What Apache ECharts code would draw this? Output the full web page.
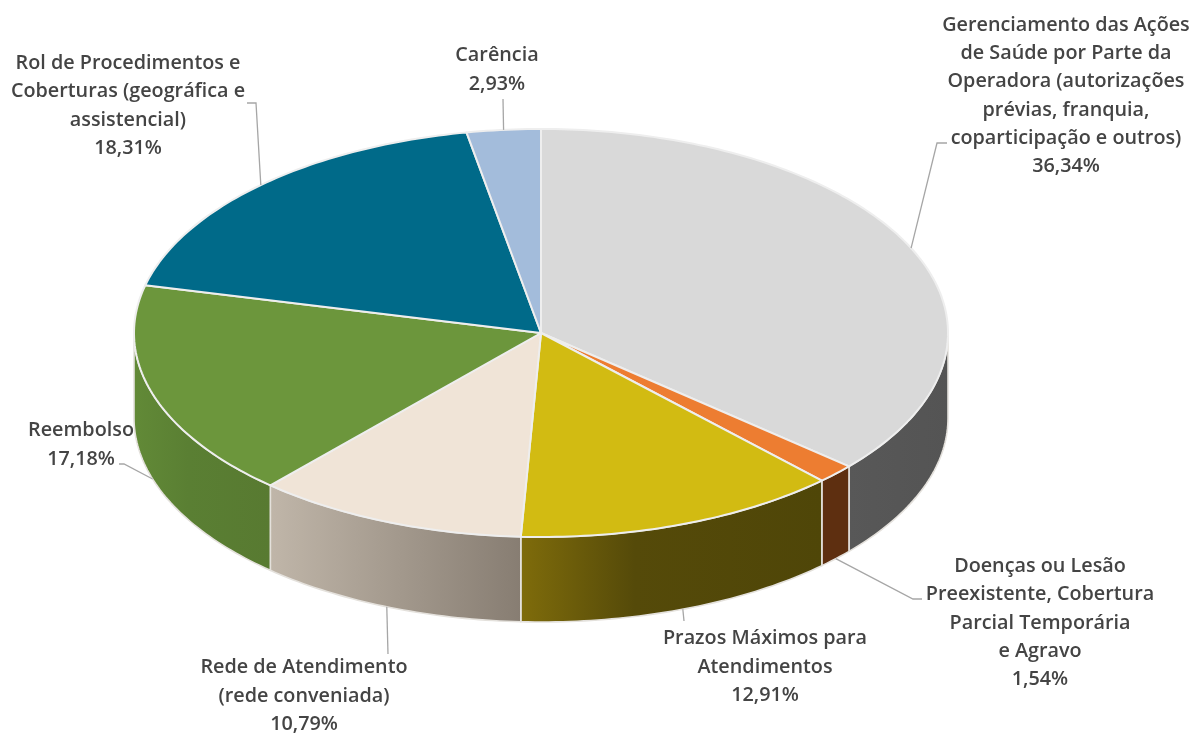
<!DOCTYPE html>
<html><head><meta charset="utf-8">
<style>html,body{margin:0;padding:0;background:#fff}#c{width:1194px;height:733px}</style>
<script src="https://cdn.jsdelivr.net/npm/echarts@6/dist/echarts.min.js"></script>
</head><body><div id="c"></div>
<script>
// Data
const categories = [
  "Gerenciamento das Ações\nde Saúde por Parte da\nOperadora (autorizações\nprévias, franquia,\ncoparticipação e outros)",
  "Doenças ou Lesão\nPreexistente, Cobertura\nParcial Temporária\ne Agravo",
  "Prazos Máximos para\nAtendimentos",
  "Rede de Atendimento\n(rede conveniada)",
  "Reembolso",
  "Rol de Procedimentos e\nCoberturas (geográfica e\nassistencial)",
  "Carência"
];
const values = [36.34, 1.54, 12.91, 10.79, 17.18, 18.31, 2.93];

// Styles
const topColors = ["#d9d9d9","#ed7d31","#d2bb12","#f0e4d7","#6c963c","#006a89","#a3bcdb"];
const wallStops = [
  [[0,"#585858"],[1,"#545454"]],
  [[0,"#5e2f10"],[1,"#5e2f10"]],
  [[0,"#7f6c0b"],[0.38,"#554a09"],[1,"#4f4608"]],
  [[0,"#c0b6a9"],[1,"#877d72"]],
  [[0,"#628a37"],[0.4,"#5a7f33"],[1,"#587a31"]],
  [[0,"#006a89"],[1,"#006a89"]],
  [[0,"#a3bcdb"],[1,"#a3bcdb"]]
];
// Pie geometry (pixels)
const CX = 541, CY = 333, RX = 407, RY = 204, DEPTH = 85;
// Label placement: centre x, centre y, then leader knee points
const labelBoxes = [
  {x:1066,y:96, knee:[[937,143],[947,143]]},
  {x:1040,y:623,knee:[[913,599],[922,599]]},
  {x:765, y:667,knee:[[684,621]]},
  {x:304, y:696,knee:[[388,654]]},
  {x:81,  y:445,knee:[[124,464],[119,464]]},
  {x:128, y:106,knee:[[256,103],[247,103]]},
  {x:497, y:70, knee:[[503,99]]}
];

const total = values.reduce((a,b)=>a+b,0);
function startAngle(i){ let s=0; for(let k=0;k<i;k++) s+=values[k]; return s/total*2*Math.PI; }
function endAngle(i){ return startAngle(i)+values[i]/total*2*Math.PI; }
function pt(a,dy){ return [CX+RX*Math.sin(a), CY-RY*Math.cos(a)+(dy||0)]; }
function arc(a0,a1,dy){
  const n=Math.max(2,Math.ceil((a1-a0)/(Math.PI/180))), out=[];
  for(let k=0;k<=n;k++) out.push(pt(a0+(a1-a0)*k/n,dy));
  return out;
}
function renderWall(params){
  const i=params.dataIndex;
  const a0=Math.max(startAngle(i),Math.PI/2), a1=Math.min(endAngle(i),Math.PI*1.5);
  if(a1<=a0) return {type:'group',children:[]};
  const pts=arc(a0,a1,0).concat(arc(a0,a1,DEPTH).reverse());
  return {type:'polygon',shape:{points:pts},style:{
    fill:new echarts.graphic.LinearGradient(0,0,1,0,wallStops[i].map(s=>({offset:s[0],color:s[1]}))),
    stroke:'#e4e1dc',lineWidth:1.6,lineJoin:'round'}};
}
function renderTop(params){
  const i=params.dataIndex;
  const pts=[[CX,CY]].concat(arc(startAngle(i),endAngle(i),0));
  return {type:'polygon',shape:{points:pts},style:{fill:topColors[i],stroke:'#eeeeee',lineWidth:2,lineJoin:'round'}};
}
function renderLabel(params,api){
  const i=params.dataIndex, box=labelBoxes[i];
  const mid=(startAngle(i)+endAngle(i))/2;
  const front=Math.cos(mid)<0;
  const start=pt(mid,front?DEPTH:0);
  const txt=categories[i]+"\n"+api.value(0).toFixed(2).replace('.',',')+"%";
  return {type:'group',children:[
    {type:'polyline',shape:{points:[start].concat(box.knee)},style:{fill:null,stroke:'#a6a6a6',lineWidth:1.3}},
    {type:'text',style:{text:txt,x:box.x,y:box.y,align:'center',verticalAlign:'middle',
      fill:'#444444',font:'600 19.8px "Open Sans"',lineHeight:28.3}}
  ]};
}
const chart=echarts.init(document.getElementById('c'),null,{renderer:'canvas'});
const seriesData=values.map(v=>[v]);
chart.setOption({
  animation:false,
  backgroundColor:'#ffffff',
  series:[
    {type:'custom',coordinateSystem:'none',renderItem:renderWall,data:seriesData,z:1,silent:true},
    {type:'custom',coordinateSystem:'none',renderItem:renderTop,data:seriesData,z:2,silent:true},
    {type:'custom',coordinateSystem:'none',renderItem:renderLabel,data:seriesData,z:3,silent:true}
  ]
});
</script></body></html>
